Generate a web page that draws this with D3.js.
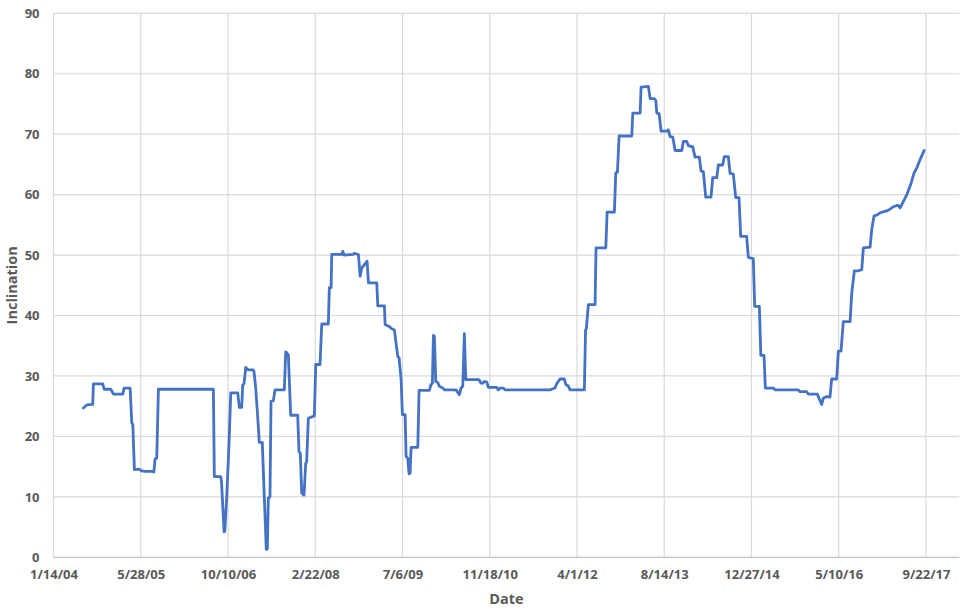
<!DOCTYPE html>
<html>
<head>
<meta charset="utf-8">
<script src="https://cdn.jsdelivr.net/npm/d3@7"></script>
<style>
  html, body { margin: 0; padding: 0; background: #ffffff; }
  svg { display: block; font-family: "Open Sans", "Liberation Sans", sans-serif; }
</style>
</head>
<body>
<svg id="chart" width="968" height="614"></svg>
<script>
// Dates as decimal years, inclination values
const years = [
  2004.503, 2004.556, 2004.635, 2004.650, 2004.660, 2004.807, 2004.828, 2004.933, 2004.974, 2005.121,
  2005.142, 2005.236, 2005.262, 2005.278, 2005.303, 2005.366, 2005.419, 2005.471, 2005.601, 2005.608,
  2005.628, 2005.654, 2005.680, 2006.543, 2006.558, 2006.659, 2006.671, 2006.711, 2006.722, 2006.753,
  2006.789, 2006.816, 2006.926, 2006.951, 2006.988, 2007.004, 2007.024, 2007.051, 2007.092, 2007.170,
  2007.181, 2007.208, 2007.233, 2007.264, 2007.311, 2007.338, 2007.374, 2007.390, 2007.406, 2007.432,
  2007.448, 2007.484, 2007.511, 2007.657, 2007.679, 2007.720, 2007.757, 2007.867, 2007.887, 2007.908,
  2007.930, 2007.966, 2007.993, 2008.008, 2008.034, 2008.128, 2008.150, 2008.217, 2008.244, 2008.347,
  2008.363, 2008.390, 2008.401, 2008.558, 2008.573, 2008.594, 2008.735, 2008.755, 2008.818, 2008.845,
  2008.871, 2008.912, 2008.954, 2008.975, 2009.106, 2009.122, 2009.226, 2009.237, 2009.299, 2009.342,
  2009.383, 2009.405, 2009.436, 2009.456, 2009.488, 2009.508, 2009.551, 2009.566, 2009.593, 2009.613,
  2009.629, 2009.645, 2009.750, 2009.770, 2009.932, 2009.954, 2009.979, 2009.995, 2010.010, 2010.032,
  2010.064, 2010.089, 2010.142, 2010.167, 2010.351, 2010.403, 2010.429, 2010.456, 2010.481, 2010.503,
  2010.712, 2010.743, 2010.770, 2010.795, 2010.832, 2010.858, 2010.989, 2011.014, 2011.041, 2011.093,
  2011.119, 2011.826, 2011.904, 2011.931, 2011.982, 2012.050, 2012.077, 2012.108, 2012.140, 2012.364,
  2012.383, 2012.395, 2012.427, 2012.532, 2012.547, 2012.700, 2012.720, 2012.834, 2012.856, 2012.882,
  2012.908, 2013.107, 2013.123, 2013.238, 2013.253, 2013.368, 2013.395, 2013.457, 2013.484, 2013.500,
  2013.536, 2013.567, 2013.656, 2013.682, 2013.708, 2013.751, 2013.787, 2013.892, 2013.917, 2013.970,
  2013.995, 2014.064, 2014.100, 2014.168, 2014.195, 2014.231, 2014.268, 2014.351, 2014.378, 2014.441,
  2014.466, 2014.535, 2014.560, 2014.623, 2014.650, 2014.701, 2014.739, 2014.791, 2014.817, 2014.911,
  2014.937, 2015.015, 2015.037, 2015.110, 2015.133, 2015.183, 2015.204, 2015.329, 2015.356, 2015.721,
  2015.748, 2015.853, 2015.878, 2016.020, 2016.051, 2016.088, 2016.113, 2016.167, 2016.218, 2016.245,
  2016.324, 2016.349, 2016.391, 2016.427, 2016.533, 2016.559, 2016.600, 2016.663, 2016.716, 2016.741,
  2016.846, 2016.873, 2016.909, 2016.951, 2017.003, 2017.066, 2017.108, 2017.160, 2017.212, 2017.266,
  2017.291, 2017.317, 2017.369, 2017.422, 2017.490, 2017.537, 2017.579, 2017.631, 2017.694
];
const inclination = [
  24.7, 25.2, 25.3, 25.3, 28.7, 28.7, 27.8, 27.8, 27.0, 27.0,
  28.0, 28.0, 22.2, 22.0, 14.5, 14.6, 14.3, 14.2, 14.2, 14.1,
  16.3, 16.4, 27.8, 27.8, 13.35, 13.35, 12.5, 4.2, 4.3, 10.0,
  18.9, 27.2, 27.2, 24.8, 24.8, 28.5, 28.7, 31.4, 31.0, 31.0,
  30.7, 28.0, 24.2, 19.0, 19.0, 11.3, 1.3, 1.4, 9.8, 10.0,
  25.8, 25.9, 27.7, 27.7, 34.0, 33.5, 23.5, 23.5, 17.5, 17.2,
  10.6, 10.3, 15.6, 15.8, 23.0, 23.4, 31.9, 31.9, 38.6, 38.6,
  44.6, 44.6, 50.1, 50.1, 50.6, 50.0, 50.1, 50.3, 50.1, 46.5,
  47.9, 48.4, 49.0, 45.4, 45.4, 41.6, 41.6, 38.5, 38.2, 37.8,
  37.6, 35.7, 33.2, 33.0, 29.4, 23.6, 23.6, 16.7, 16.4, 13.8,
  13.9, 18.2, 18.2, 27.6, 27.6, 28.5, 28.8, 36.7, 36.6, 29.1,
  28.9, 28.3, 28.0, 27.7, 27.7, 26.9, 28.0, 28.3, 37.0, 29.4,
  29.4, 28.8, 28.8, 29.1, 29.0, 28.1, 28.1, 27.7, 28.0, 28.0,
  27.7, 27.7, 28.0, 28.7, 29.5, 29.5, 28.5, 28.4, 27.7, 27.7,
  37.6, 37.8, 41.8, 41.8, 51.2, 51.2, 57.1, 57.1, 63.6, 63.7,
  69.7, 69.7, 73.5, 73.5, 77.8, 77.9, 75.9, 75.9, 75.6, 73.5,
  73.4, 70.5, 70.5, 70.7, 69.6, 69.5, 67.3, 67.3, 68.8, 68.8,
  68.1, 67.9, 66.2, 66.2, 63.9, 63.8, 59.6, 59.6, 62.8, 62.8,
  64.9, 64.9, 66.3, 66.3, 63.5, 63.4, 59.5, 59.5, 53.1, 53.1,
  49.6, 49.4, 41.5, 41.5, 33.4, 33.4, 28.0, 28.0, 27.7, 27.7,
  27.4, 27.4, 27.0, 27.0, 26.2, 25.3, 26.3, 26.6, 26.5, 29.5,
  29.5, 34.1, 34.1, 39.0, 39.0, 43.7, 47.4, 47.4, 47.6, 51.2,
  51.3, 54.3, 56.5, 56.6, 57.0, 57.2, 57.3, 57.6, 58.0, 58.2,
  58.2, 57.8, 58.9, 60.0, 61.9, 63.6, 64.4, 65.8, 67.3
];
const yTicks = [0, 10, 20, 30, 40, 50, 60, 70, 80, 90];
const xTickLabels = ["1/14/04", "5/28/05", "10/10/06", "2/22/08", "7/6/09", "11/18/10",
                     "4/1/12", "8/14/13", "12/27/14", "5/10/16", "9/22/17"];
const xTitle = "Date";
const yTitle = "Inclination";

(function () {
  function yearToDate(v) {
    const yr = Math.floor(v);
    const start = Date.UTC(yr, 0, 1);
    const end = Date.UTC(yr + 1, 0, 1);
    return new Date(start + (v - yr) * (end - start));
  }

  const DAY = 86400000;
  const axisStart = new Date(Date.UTC(2004, 0, 14));
  const xTickDates = xTickLabels.map((_, i) => new Date(axisStart.getTime() + i * 500 * DAY));
  const axisEnd = new Date(axisStart.getTime() + 5191 * DAY);

  const data = years.map((v, i) => ({ date: yearToDate(v), value: inclination[i] }));

  const svg = d3.select("#chart");
  const pL = 53.5, pR = 959.3, pT = 13.3, pB = 557.3;

  const x = d3.scaleUtc().domain([axisStart, axisEnd]).range([pL, pR]);
  const y = d3.scaleLinear().domain([0, 90]).range([pB, pT]);

  // horizontal gridlines
  svg.append("g").selectAll("line").data(yTicks.filter(d => d > 0)).join("line")
    .attr("x1", pL).attr("x2", pR)
    .attr("y1", d => y(d)).attr("y2", d => y(d))
    .attr("stroke", "#d9d9d9").attr("stroke-width", 1.2);

  // vertical gridlines
  svg.append("g").selectAll("line").data(xTickDates).join("line")
    .attr("x1", d => x(d)).attr("x2", d => x(d))
    .attr("y1", pT).attr("y2", pB)
    .attr("stroke", "#d9d9d9").attr("stroke-width", 1.2);

  // x axis
  const xAxis = d3.axisBottom(x).tickValues(xTickDates)
    .tickFormat((d, i) => xTickLabels[i]).tickSize(0).tickPadding(12);
  const gx = svg.append("g").attr("transform", `translate(0,${pB})`).call(xAxis);
  gx.select(".domain").attr("stroke", "#bfbfbf").attr("stroke-width", 1.3)
    .attr("d", `M${pL},0H${pR}`);
  gx.selectAll("text").attr("fill", "#595959").attr("font-size", 13).attr("font-weight", 700)
    .attr("font-family", "'Open Sans', sans-serif");

  // y axis
  const yAxis = d3.axisLeft(y).tickValues(yTicks).tickSize(0).tickPadding(14);
  const gy = svg.append("g").attr("transform", `translate(${pL},0)`).call(yAxis);
  gy.select(".domain").remove();
  gy.selectAll("text").attr("fill", "#595959").attr("font-size", 13).attr("font-weight", 700)
    .attr("font-family", "'Open Sans', sans-serif");

  // line
  const line = d3.line().x(d => x(d.date)).y(d => y(d.value));
  svg.append("path").datum(data)
    .attr("d", line)
    .attr("fill", "none")
    .attr("stroke", "#4472c4")
    .attr("stroke-width", 2.8)
    .attr("stroke-linejoin", "round")
    .attr("stroke-linecap", "round");

  // axis titles
  svg.append("text").attr("x", (pL + pR) / 2).attr("y", 604)
    .attr("text-anchor", "middle").attr("fill", "#595959")
    .attr("font-size", 14.5).attr("font-weight", 700).text(xTitle);
  svg.append("text")
    .attr("transform", `translate(17,${(pT + pB) / 2}) rotate(-90)`)
    .attr("text-anchor", "middle").attr("fill", "#595959")
    .attr("font-size", 14.5).attr("font-weight", 700).text(yTitle);
})();
</script>
</body>
</html>
